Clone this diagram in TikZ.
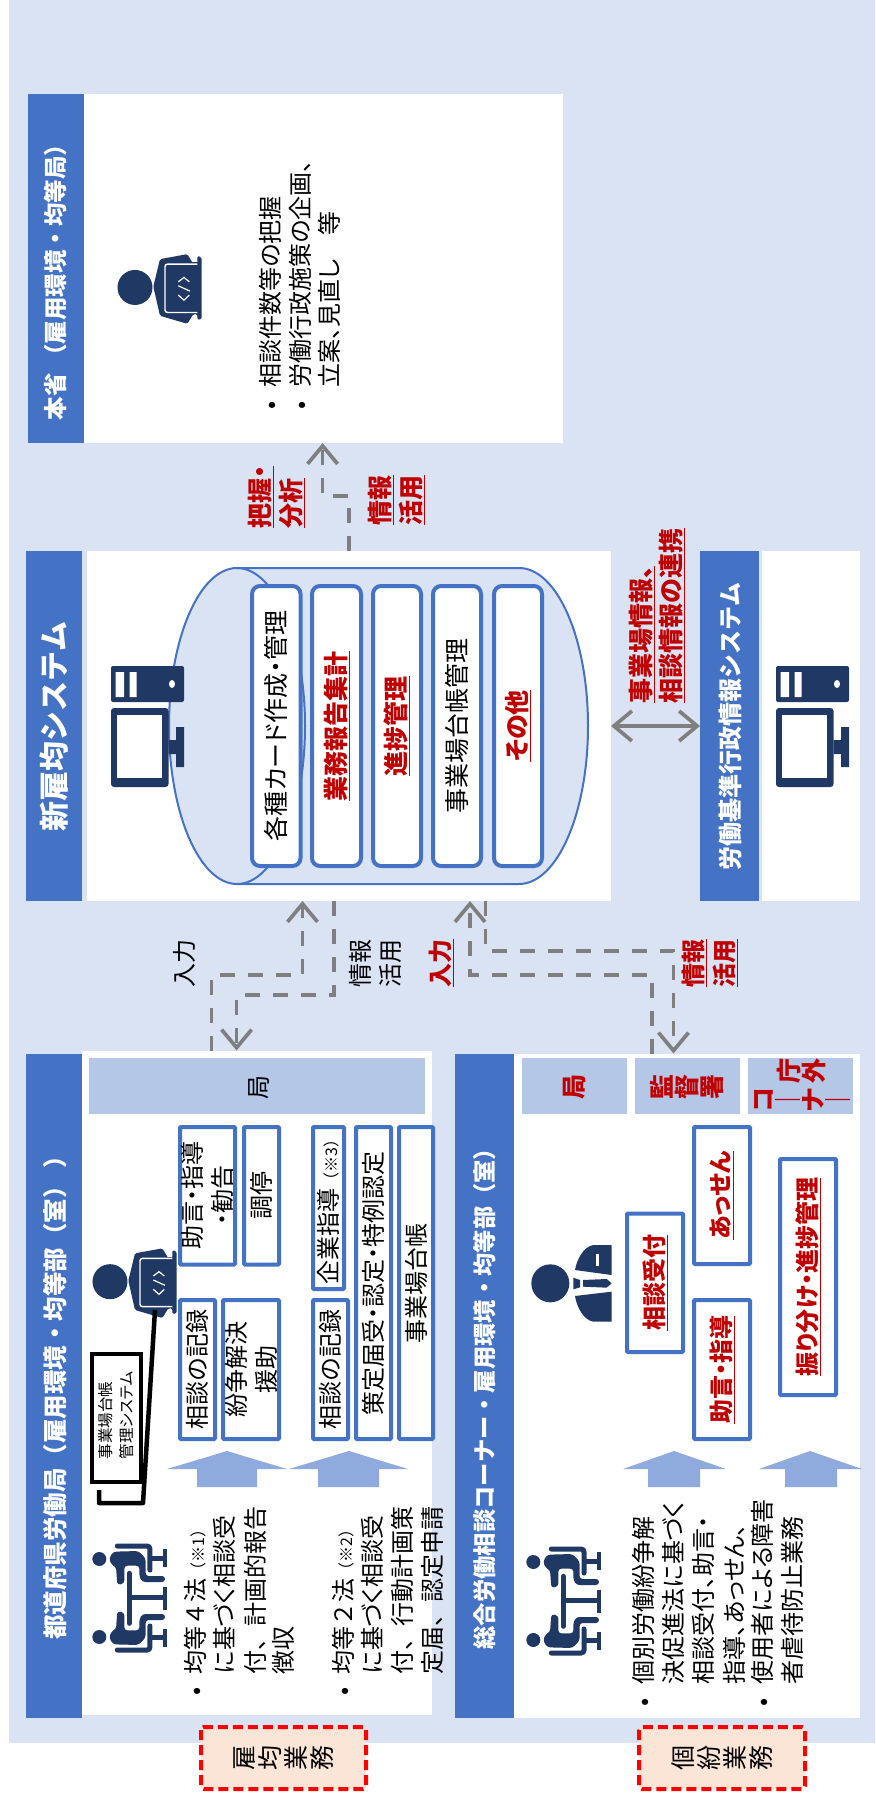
\documentclass[tikz,border=0pt]{standalone}
\usepackage{fontspec}
\setmainfont{Noto Sans CJK JP}[RawFeature=+palt]
\newfontfamily\fw{Noto Sans CJK JP}
\usetikzlibrary{arrows.meta}
\definecolor{bgblue}{HTML}{DAE3F3}
\definecolor{hdblue}{HTML}{4472C4}
\definecolor{lvblue}{HTML}{B4C7E7}
\definecolor{arblue}{HTML}{8FAADC}
\definecolor{navy}{HTML}{203864}
\definecolor{flowgray}{HTML}{7F7F7F}
\definecolor{redtxt}{HTML}{C00000}
\definecolor{peach}{HTML}{FBE5D6}
\newcounter{tlc}
\newcommand\ST{\rule[-.12em]{0pt}{1em}}
\newcommand\ru[1]{\textcolor{redtxt}{\bfseries\underline{#1}}}
\newcommand\smallnote[1]{{\fw\fontsize{16}{16}\selectfont #1}}
% single text line
\newcommand\tl[5][]{\stepcounter{tlc}\node[txt,font=\fontsize{#2}{#2}\selectfont,#1] (t\thetlc) at (#3,#4) {\ST #5};}
% plain filled rectangle node, measured corners
\newcommand\tbx[6][]{\pgfmathsetmacro\bxcx{(#3+#5)/2}\pgfmathsetmacro\bxcy{(#4+#6)/2}\pgfmathsetmacro\bxw{#5-#3}\pgfmathsetmacro\bxh{#6-#4}\node[plain,#1,minimum width=\bxw pt,minimum height=\bxh pt] (#2) at (\bxcx,\bxcy) {};}
% stroked rotated box with text, measured outer corners
\newcommand\lbx[7][]{\pgfmathsetmacro\bxcx{(#3+#5)/2}\pgfmathsetmacro\bxcy{(#4+#6)/2}\pgfmathsetmacro\bxw{#5-#3-4}\pgfmathsetmacro\bxh{#6-#4-4}\node[wbox,#1,minimum width=\bxh pt,minimum height=\bxw pt] (#2) at (\bxcx,\bxcy) {#7};}
\newcommand\laptopicon[2]{\begin{scope}[shift={(#1,#2)},x=0.3333pt,y=-0.3333pt]
 \fill[navy] (75,125) circle[radius=17.5pt];
 \fill[navy,rounded corners=1.5pt] (130,122) -- (150,40) -- (232,25) -- (250,55) -- (262,55) -- (262,30) -- (275,35) -- (275,220) -- (262,222) -- (262,205) -- (250,205) -- (232,234) -- (150,210) -- cycle;
 \fill[navy] (165,50) rectangle (270,205);
 \draw[white,line width=1.4pt,rounded corners=2.5pt] (262,55) -- (165,55) -- (165,200) -- (262,200);
 \draw[white,line width=1.2pt] (205,108) -- (222,95) -- (238,108) (205,120) -- (240,136) (205,148) -- (222,163) -- (238,148);
\end{scope}}
\newcommand\seatedhalf{
 \draw[navy,line width=5pt,line cap=round,rounded corners=3pt] (97,33) -- (195,33) -- (195,105);
 \draw[navy,line width=4.6pt] (195,70) -- (240,70) (240,42) -- (240,95);
 \fill[navy,rounded corners=3pt] (72,70) -- (85,50) -- (160,48) -- (182,70) -- (182,123) -- (240,123) -- (240,141) -- (172,141) -- (163,125) -- (163,92) -- (118,92) -- (118,145) -- (97,150) -- (93,95) -- (80,90) -- cycle;
 \fill[navy] (43,72) circle[radius=7pt];}
\newcommand\meetingicon[2]{\begin{scope}[shift={(#1,#2)},x=0.3333pt,y=-0.3333pt]
 \seatedhalf
 \begin{scope}[shift={(0,378)},y=0.3333pt]\seatedhalf\end{scope}
 \draw[navy,line width=5pt,line cap=round] (133,115) -- (133,265);
 \draw[navy,line width=4.6pt] (133,187) -- (240,187) (240,155) -- (240,225);
\end{scope}}
\newcommand\tieicon[2]{\begin{scope}[shift={(#1,#2)},x=0.3333pt,y=-0.3333pt]
 \fill[navy] (76,130) circle[radius=19pt];
 \fill[navy] (150,90) .. controls (155,60) and (175,20) .. (205,15) -- (260,15) -- (260,105) -- cycle;
 \fill[navy] (150,168) .. controls (155,200) and (175,240) .. (205,245) -- (260,245) -- (260,155) -- cycle;
 \fill[white] (214,42) rectangle (221,78);
 \fill[navy] (145,113) -- (165,120) -- (165,142) -- (145,148) -- cycle;
 \fill[navy] (174,120) -- (245,117) -- (260,130) -- (245,143) -- (174,140) -- cycle;
\end{scope}}
\newcommand\pcicon[1]{\begin{scope}[shift={(#1,0)}]
 \fill[navy,rounded corners=2pt] (111,666) rectangle (184,702);
 \fill[white] (115.5,672) rectangle (124,697) (129.5,672) rectangle (136.7,697);
 \fill[white] (172,684) ellipse[x radius=3pt,y radius=4pt];
 \fill[navy,rounded corners=3pt] (111,708) rectangle (168.5,787);
 \fill[white] (117,715) rectangle (162,778);
 \fill[navy] (168.5,740) rectangle (176,754) (176,727) rectangle (184,767);
\end{scope}}
\newcommand\upblock[5]{\fill[arblue] (#1,1451) -- (#3,1469) -- (#4,1469) -- (#4,1487) -- (#5,1487) -- (#5,1469) -- (#2,1469) -- cycle;}
\tikzset{
 plain/.style={inner sep=0pt,outer sep=0pt,draw=none},
 txt/.style={rotate=90,inner sep=0pt,outer sep=0pt},
 wbox/.style={rotate=90,draw=hdblue,fill=white,line width=4pt,rounded corners=1pt,inner sep=0pt,outer sep=0pt,align=center,font=\fontsize{24}{30}\selectfont},
 dbbox/.style={line width=4pt,rounded corners=8pt,font=\fontsize{25}{30}\selectfont},
 flow/.style={draw=flowgray,line width=3.7pt,dash pattern=on 15pt off 13pt,-{Straight Barb[length=18pt,width=30pt]}},
 link/.style={draw=flowgray,line width=3.7pt,{Straight Barb[length=18pt,width=30pt]}-{Straight Barb[length=18pt,width=30pt]}},
 lvl/.style={fill=lvblue},
 taskbox/.style={rotate=90,draw=red,fill=peach,line width=4pt,dash pattern=on 10pt off 5pt,rounded corners=3pt,inner sep=0pt,outer sep=0pt,align=center,font=\fontsize{25}{26}\selectfont},
 redstack/.style={rotate=90,inner sep=0pt,outer sep=0pt,align=center,text=redtxt,font=\bfseries\fontsize{25}{25}\selectfont}
}
\begin{document}
\begin{tikzpicture}[x=1pt,y=-1pt]
\useasboundingbox (0,0) rectangle (875,1795);
\fill[bgblue] (9,0) rectangle (875,1743);
% ---- panels
\tbx[fill=white]{honP}{84}{94}{563}{443}
\tbx[fill=hdblue]{honT}{28}{94}{84}{443}
\tbx[fill=white]{sysP}{87}{551}{611}{901}
\tbx[fill=hdblue]{sysT}{26}{551}{82}{901}
\tbx[fill=white]{kijP}{762}{551}{860}{901}
\tbx[fill=hdblue]{kijT}{700}{551}{759}{901}
\tbx[fill=white]{prefP}{82}{1050.5}{432}{1715}
\tbx[fill=hdblue]{prefT}{26}{1053.5}{82}{1718}
\tbx[fill=white]{soP}{514}{1053.5}{860}{1718}
\tbx[fill=hdblue]{soT}{455}{1053.5}{514}{1718}
% ---- titles
\tl[text=white]{23.5}{56}{276.5}{\fw\bfseries 本省 （雇用環境・均等局）}
\tl[text=white]{30}{54}{726.5}{\fw\bfseries 新雇均システム}
\tl[text=white]{24}{730}{726.5}{\fw\bfseries 労働基準行政情報システム}
\tl[text=white]{24.5}{55}{1392}{\fw\bfseries 都道府県労働局（雇用環境・均等部（室） ）}
\tl[text=white]{23.3}{485}{1393}{\fw\bfseries 総合労働相談コーナー・雇用環境・均等部（室）}
% ---- honsho content
\laptopicon{110}{245.8}
\tl{24}{270}{405}{•}
\tl{24}{300}{405}{•}
\tl[anchor=west]{24}{270}{387.5}{相談件数等の把握}
\tl[anchor=west]{24}{300}{387.5}{労働行政施策の企画、}
\tl[anchor=west]{24}{329}{387.5}{立案、見直し　等}
% ---- system content
\draw[hdblue,fill=bgblue,line width=2pt] (237,568) -- (519,568) arc[start angle=90,end angle=-90,x radius=69pt,y radius=158pt] -- (237,884) arc[start angle=-90,end angle=-270,x radius=68pt,y radius=158pt] -- cycle;
\draw[hdblue,line width=2pt] (237,568) arc[start angle=90,end angle=-90,x radius=68pt,y radius=158pt];
\pcicon{0}
\pcicon{665}
\lbx[dbbox]{db1}{250}{584}{302.5}{868}{各種カード作成・管理}
\lbx[dbbox]{db2}{310}{584}{363}{868}{\ru{業務報告集計}}
\lbx[dbbox]{db3}{371}{584}{423}{868}{\ru{進捗管理}}
\lbx[dbbox]{db4}{431}{584}{483}{868}{事業場台帳管理}
\lbx[dbbox]{db5}{492}{584}{544}{868}{\ru{その他}}
% ---- prefecture panel
\tbx[lvl]{prefLv}{89}{1058}{425}{1114}
\tl{24}{258}{1087}{局}
\laptopicon{85}{1240}
\lbx{p1}{178}{1125}{237}{1266.6}{助言・指導\\・勧告}
\lbx{p2}{242}{1125}{281}{1266.6}{調停}
\lbx{p3}{178}{1298}{217}{1441}{相談の記録}
\lbx{p4}{221}{1298}{281}{1441}{紛争解決\\援助}
\lbx{p5}{311}{1125}{346}{1291}{企業指導\smallnote{（※3）}}
\lbx{p6}{311}{1298}{350}{1441}{相談の記録}
\lbx{p7}{354}{1125}{393}{1441}{策定届受・認定・特例認定}
\lbx{p8}{397}{1125}{435}{1441}{事業場台帳}
\upblock{227}{167}{287}{257}{197}
\upblock{349}{289}{408}{379}{318}
\tbx[draw=black,fill=white,line width=4.5pt]{mgmt}{92}{1354}{141}{1482}
\tl[anchor=west]{15.5}{106}{1459}{事業場台帳}
\tl[anchor=west]{15.5}{127}{1459}{管理システム}
\coordinate (mgA) at (155,1310);
\coordinate (mgB) at (143,1503);
\coordinate (mgC) at (99,1503);
\coordinate (mgD) at (99,1490);
\draw[black,line width=4.5pt,line join=round] (mgA) -- (mgB) -- (mgC) -- (mgD);
\meetingicon{85}{1535}
\tl{24}{195}{1691}{•}
\tl[anchor=west]{24}{195}{1674}{\fw 均等４法\smallnote{（※1）}}
\tl[anchor=west]{24}{224}{1674}{に基づく相談受}
\tl[anchor=west]{24}{255}{1674}{\fw 付、計画的報告}
\tl[anchor=west]{24}{283}{1674}{徴収}
\tl{24}{343}{1691}{•}
\tl[anchor=west]{24}{343}{1674}{\fw 均等２法\smallnote{（※2）}}
\tl[anchor=west]{24}{372}{1674}{に基づく相談受}
\tl[anchor=west]{24}{402}{1674}{\fw 付、行動計画策}
\tl[anchor=west]{24}{432}{1674}{\fw 定届、認定申請}
% ---- sogo panel
\tbx[lvl]{soLv1}{522}{1058}{627}{1114}
\tbx[lvl]{soLv2}{635}{1058}{740}{1114}
\tbx[lvl]{soLv3}{748}{1058}{853}{1114}
\tl[text=redtxt]{25}{574}{1087}{\bfseries 局}
\node[redstack] (st1) at (687,1087) {監\\督\\署};
\node[redstack] (st2) at (801,1071) {庁\\外};
\node[redstack] (st3) at (802,1100) {コ\\｜\\ナ\\｜};
\tieicon{525}{1240}
\lbx{s1}{625}{1211.5}{685}{1354}{\ru{相談受付}}
\lbx{s2}{692}{1125}{752}{1266}{\ru{あっせん}}
\lbx{s3}{692}{1298}{752}{1441}{\ru{助言・指導}}
\lbx{s4}{778}{1157}{838}{1397}{\ru{振り分け・進捗管理}}
\upblock{674}{623}{726}{700}{648}
\upblock{810}{759}{862}{837}{785}
\meetingicon{519}{1538}
\tl{24}{643}{1702}{•}
\tl{24}{762}{1702}{•}
\tl[anchor=west]{24}{643}{1684}{個別労働紛争解}
\tl[anchor=west]{24}{673}{1684}{決促進法に基づく}
\tl[anchor=west]{24}{703}{1684}{相談受付、助言・}
\tl[anchor=west]{24}{734}{1684}{指導、あっせん、}
\tl[anchor=west]{24}{762}{1684}{使用者による障害}
\tl[anchor=west]{24}{792}{1684}{者虐待防止業務}
% ---- task boxes
\node[taskbox,minimum width=62pt,minimum height=165pt] (task1) at (283.5,1758) {雇\\均\\業\\務};
\node[taskbox,minimum width=62pt,minimum height=166pt] (task2) at (722,1758) {個\\紛\\業\\務};
% ---- connectors
\coordinate (xa) at (349,0);
\coordinate (xb) at (322.6,0);
\coordinate (ya) at (0,496);
\draw[flow] (sysP.north -| xa) -- (xa |- ya) -- (xb |- ya) -- (honP.south -| xb);
\coordinate (x1) at (211.5,0);
\coordinate (x1e) at (302.5,0);
\coordinate (y1) at (0,975);
\draw[flow] (prefP.north -| x1) -- (x1 |- y1) -- (x1e |- y1) -- (sysP.south -| x1e);
\coordinate (x2) at (334,0);
\coordinate (x2e) at (236.6,0);
\coordinate (y2) at (0,995);
\draw[flow] (sysP.south -| x2) -- (x2 |- y2) -- (x2e |- y2) -- (prefP.north -| x2e);
\coordinate (x3) at (652,0);
\coordinate (x3e) at (470,0);
\draw[flow] (soP.north -| x3) -- (x3 |- y1) -- (x3e |- y1) -- (sysP.south -| x3e);
\coordinate (x4) at (485.5,0);
\coordinate (x4e) at (673.5,0);
\coordinate (y4) at (0,950.7);
\draw[flow] (sysP.south -| x4) -- (x4 |- y4) -- (x4e |- y4) -- (soP.north -| x4e);
\draw[link] (sysP.east) -- (kijT.west);
% ---- connector labels
\tl[anchor=west]{25}{261}{528}{\ru{把握・}}
\tl[anchor=west]{25}{292}{528}{\ru{分析}}
\tl[anchor=west]{25}{381}{525}{\ru{情報}}
\tl[anchor=west]{25}{412}{525}{\ru{活用}}
\tl[anchor=west]{25}{642}{703}{\ru{事業場情報、}}
\tl[anchor=west]{25}{672}{703}{\ru{相談情報の連携}}
\tl{24}{184}{963}{入力}
\tl{24}{360}{963}{情報}
\tl{24}{390}{963}{活用}
\tl{24}{441}{963}{\ru{入力}}
\tl{24}{694}{963}{\ru{情報}}
\tl{24}{725}{963}{\ru{活用}}
\end{tikzpicture}
\end{document}
